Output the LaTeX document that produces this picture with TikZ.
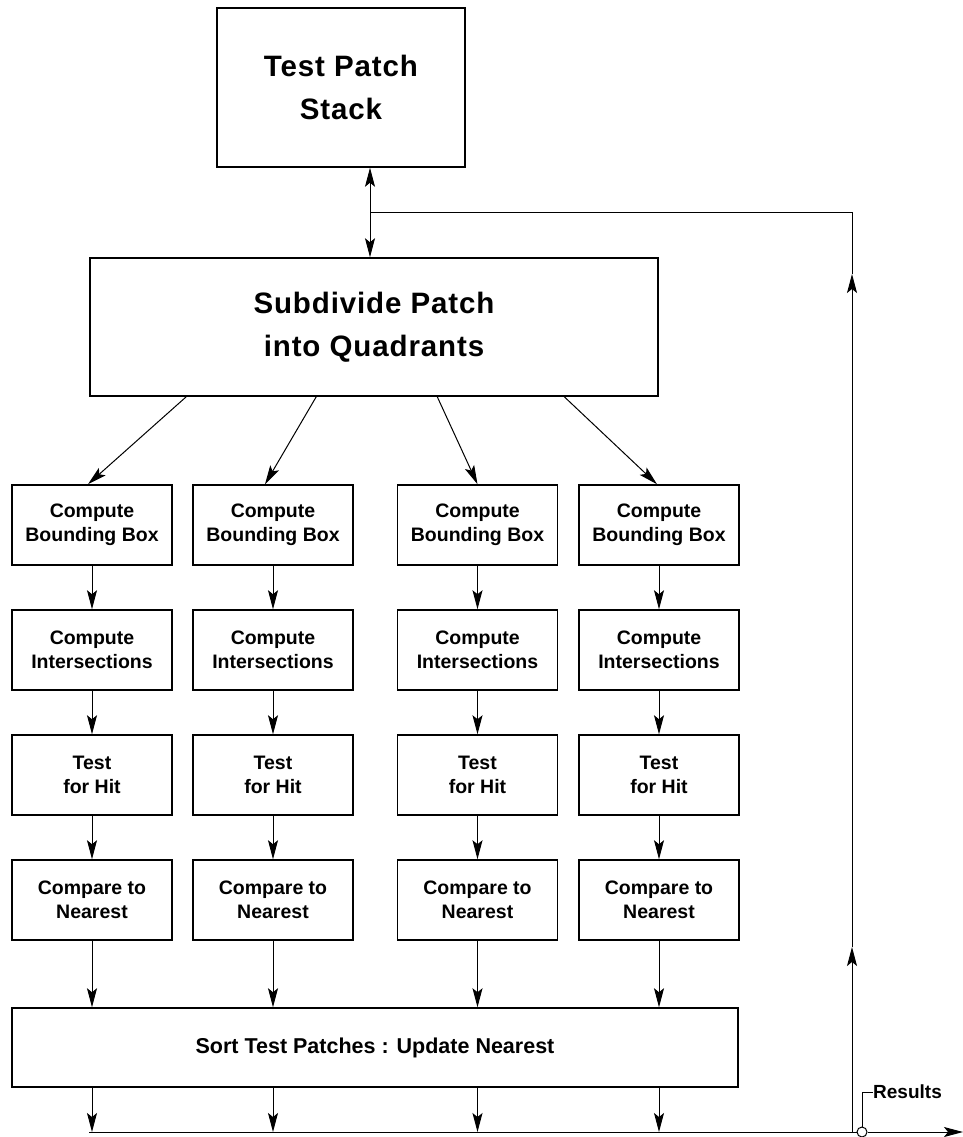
\documentclass[tikz,border=0pt]{standalone}
\usepackage{fontspec}
\setmainfont{Liberation Sans}
\usetikzlibrary{arrows.meta}
\begin{document}
\begin{tikzpicture}[x=1pt,y=-1pt,
  box/.style={draw,line width=1.5pt,inner sep=0pt,align=center,font=\bfseries},
  bigbox/.style={box,font=\fontsize{29.5}{43}\selectfont\bfseries\addfontfeature{LetterSpace=3}},
  colbox/.style={box,minimum width=160pt,minimum height=80pt,font=\fontsize{19.5}{24}\selectfont\bfseries},
  tip/.tip={Stealth[length=19pt,width=10pt,inset=4pt]},
  arr/.style={line width=1pt,-tip},
  ln/.style={line width=1pt}]
\useasboundingbox (0,0) rectangle (963,1137);
\fill[white] (0,0) rectangle (963,1137);
\node[bigbox,minimum width=248pt,minimum height=159pt] (top) at (341,87.5) {Test Patch\\Stack};
\node[bigbox,minimum width=568pt,minimum height=138pt] (sub) at (374,327) {Subdivide Patch\\into Quadrants};
\foreach \c/\x in {1/92,2/273,3/477.5,4/659}{
  \node[colbox] (a\c) at (\x,525) {Compute\\Bounding Box};
  \node[colbox] (b\c) at (\x,650) {Compute\\Intersections};
  \node[colbox] (c\c) at (\x,775) {Test\\for Hit};
  \node[colbox] (d\c) at (\x,900) {Compare to\\Nearest};
}
\node[box,minimum width=726pt,minimum height=79pt,font=\fontsize{21.5}{24}\selectfont\bfseries] (sort) at (375,1047.5) {Sort Test Patches : Update Nearest};
% stack link
\coordinate (j) at (370,212);
\coordinate (jr) at (852,212);
\coordinate (up2) at (852,274);
\coordinate (up1) at (852,947);
\coordinate (jb) at (852,1132);
\coordinate (bl) at (89,1132);
\coordinate (endr) at (963,1132);
\draw[line width=1pt,tip-tip] (top.south -| j) -- (sub.north -| j);
\draw[ln] (j) -- (jr) -- (up2);
\draw[arr] (up1) -- (up2);
\draw[arr] (jb) -- (up1);
% diagonals
\draw[arr] ([xshift=97pt]sub.south west) -- ([xshift=-4pt]a1.north);
\draw[arr] ([xshift=227pt]sub.south west) -- ([xshift=-8pt]a2.north);
\draw[arr] ([xshift=348pt]sub.south west) -- (a3.north);
\draw[arr] ([xshift=475pt]sub.south west) -- ([xshift=-2pt]a4.north);
\foreach \c in {1,2,3,4}{
  \draw[arr] (a\c) -- (b\c);
  \draw[arr] (b\c) -- (c\c);
  \draw[arr] (c\c) -- (d\c);
  \draw[arr] (d\c) -- (sort.north -| d\c);
  \draw[arr] (sort.south -| d\c) -- (d\c |- bl);
}
% bottom line and results
\node[draw,circle,line width=1pt,minimum size=10pt,inner sep=0pt] (rc) at (862,1132) {};
\draw[ln] (bl) -- (rc.west);
\draw[arr] (rc.east) -- (endr);
\coordinate (rt) at (862,1092);
\node[anchor=west,inner sep=0pt,font=\fontsize{19}{22}\selectfont\bfseries] (res) at (873,1092) {Results};
\draw[ln] (rc.north) -- (rt) -- (res.west);
\end{tikzpicture}
\end{document}
